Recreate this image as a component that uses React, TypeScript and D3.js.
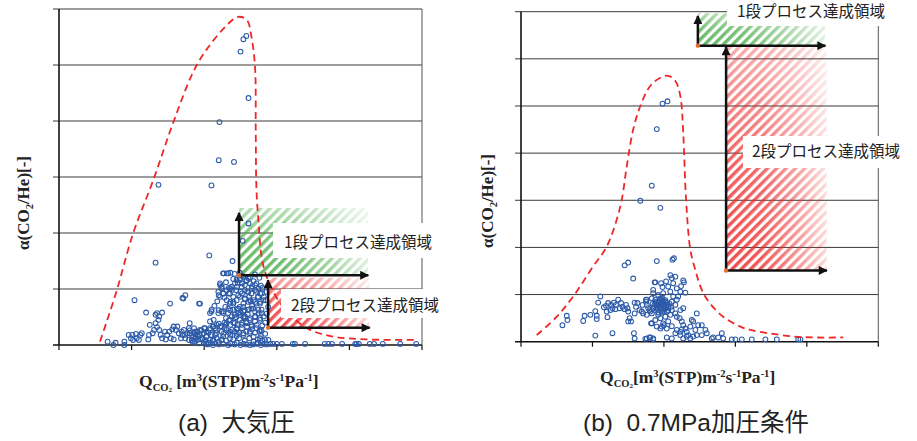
import React from 'react';
import * as d3 from 'd3';

type Pt = [number, number];

// ---------- axes ----------
const xTickValues = [0, 1, 2, 3, 4, 5];
const atmAlphaTicks = [0, 1, 2, 3, 4, 5, 6];
const presAlphaTicks = [0, 1, 2, 3, 4, 5, 6, 7];

// ---------- (a) atmospheric pressure ----------
const atmPoints: Pt[] = [
  [2.58, 5.52], [2.54, 5.46], [2.50, 5.24], [2.61, 4.41], [2.21, 3.98], [2.20, 3.30], [2.41, 3.27],
  [1.37, 2.86], [2.10, 2.85], [2.61, 2.17], [2.53, 1.86], [1.33, 1.47], [2.07, 1.60], [2.39, 1.50],
  [2.27, 1.28], [2.33, 1.28], [1.53, 0.74], [1.70, 0.84], [1.74, 0.89], [1.93, 0.74], [1.20, 0.58], [1.04, 0.80],
  [0.67, 0.06], [0.75, 0.0], [0.78, 0.04], [0.90, 0.06], [0.90, 0.0], [0.96, 0.18], [0.99, 0.12], [1.01, 0.18],
  [1.02, 0.09], [1.06, 0.20], [1.07, 0.12], [1.10, 0.09], [1.12, 0.18], [1.14, 0.21],
  [1.33, 0.54], [1.35, 0.57], [1.38, 0.51], [1.42, 0.58], [1.37, 0.45], [1.33, 0.39], [1.35, 0.32], [1.25, 0.36],
  [1.31, 0.27], [1.38, 0.27], [1.24, 0.18], [1.23, 0.10], [1.29, 0.21], [1.40, 0.18], [1.42, 0.12], [1.46, 0.24],
  [1.49, 0.18], [1.52, 0.24], [1.54, 0.12], [1.56, 0.28], [1.58, 0.33], [1.61, 0.27], [1.63, 0.33], [1.65, 0.21],
  [1.68, 0.12], [1.70, 0.18], [1.72, 0.27], [1.74, 0.12], [1.77, 0.21], [1.79, 0.30], [1.80, 0.39], [1.83, 0.18],
  [1.86, 0.21], [1.88, 0.12], [1.91, 0.24], [1.58, 0.10], [1.47, 0.10], [1.79, 0.09], [1.84, 0.06],
  [2.26, 1.28], [2.31, 1.28], [2.36, 1.29], [2.42, 1.27], [2.49, 1.29], [2.54, 1.22], [2.61, 1.19], [2.63, 1.21],
  [2.49, 1.16], [2.52, 1.10], [2.56, 1.07], [2.45, 1.04], [2.36, 1.01], [2.38, 0.98], [2.22, 1.07], [2.24, 1.01],
  [2.26, 0.92], [2.20, 0.89], [2.40, 0.86], [2.47, 0.89], [2.52, 0.92], [2.59, 0.95], [2.65, 0.92], [2.70, 0.98],
  [2.75, 1.01], [2.77, 0.92], [2.82, 0.86], [2.77, 0.77], [2.72, 0.74], [2.68, 0.80], [2.61, 0.77], [2.54, 0.74],
  [2.49, 0.68], [2.45, 0.65], [2.40, 0.74], [2.36, 0.77], [2.31, 0.80], [2.29, 0.68], [2.24, 0.60], [2.26, 0.57],
  [2.33, 0.57], [2.38, 0.51], [2.42, 0.54], [2.47, 0.57], [2.54, 0.60], [2.61, 0.63], [2.65, 0.65], [2.70, 0.60],
  [2.75, 0.57], [2.79, 0.63], [2.82, 0.51], [2.77, 0.45], [2.70, 0.42], [2.63, 0.45], [2.56, 0.48], [2.49, 0.45],
  [2.42, 0.39], [2.36, 0.36], [2.29, 0.36], [2.22, 0.33], [2.15, 0.30], [2.08, 0.30], [2.03, 0.24], [1.99, 0.21],
  [1.94, 0.18], [1.90, 0.18], [1.85, 0.15], [1.83, 0.09], [1.87, 0.06], [1.92, 0.10], [1.97, 0.12], [2.03, 0.15],
  [2.10, 0.18], [2.17, 0.21], [2.24, 0.24], [2.31, 0.27], [2.38, 0.27], [2.45, 0.28], [2.52, 0.30], [2.59, 0.33],
  [2.65, 0.36], [2.72, 0.30], [2.79, 0.26], [2.63, 0.21], [2.54, 0.18], [2.45, 0.20], [2.36, 0.18], [2.26, 0.15],
  [2.17, 0.12], [2.08, 0.09], [2.01, 0.06], [1.93, 0.03], [2.10, 0.60], [2.13, 0.45], [2.08, 0.42],
  [2.03, 0.02], [2.15, 0.03], [2.26, 0.02], [2.36, 0.02], [2.45, 0.04], [2.54, 0.02], [2.63, 0.0], [2.72, 0.02],
  [2.82, 0.02], [2.91, 0.02],
  [2.30, 1.12], [2.40, 1.18], [2.58, 1.14], [2.66, 1.05], [2.72, 1.10], [2.80, 1.02], [2.86, 0.95], [2.85, 0.80],
  [2.88, 0.68], [2.86, 0.56], [2.84, 0.40], [2.80, 0.35], [2.76, 0.25], [2.70, 0.50], [2.66, 0.70], [2.62, 0.86],
  [2.56, 0.82], [2.50, 0.95], [2.44, 0.98], [2.34, 0.92], [2.28, 0.85], [2.18, 0.78], [2.14, 0.70], [2.20, 0.62],
  [2.30, 0.48], [2.34, 0.44], [2.40, 0.40], [2.46, 0.36], [2.52, 0.40], [2.58, 0.42], [2.60, 0.55], [2.56, 0.62],
  [2.50, 0.58], [2.44, 0.50], [2.36, 0.62], [2.28, 0.40], [2.20, 0.38], [2.16, 0.26], [2.12, 0.33], [2.06, 0.22],
  [2.00, 0.30], [1.96, 0.26], [1.90, 0.24], [1.86, 0.30], [1.80, 0.26], [1.98, 0.10], [2.06, 0.04], [2.12, 0.08],
  [2.20, 0.06], [2.24, 0.10], [2.30, 0.08], [2.40, 0.10], [2.48, 0.12], [2.56, 0.08], [2.62, 0.12], [2.68, 0.06],
  [2.74, 0.10], [2.78, 0.16], [2.42, 0.24], [2.48, 0.22], [2.34, 0.22], [2.28, 0.30], [2.66, 0.28], [2.70, 0.22],
  [2.58, 0.24], [2.54, 0.50], [2.64, 0.78], [2.74, 0.86], [2.78, 1.06], [2.68, 1.14], [2.46, 1.12], [2.34, 1.02],
  [2.52, 1.24], [2.70, 1.26], [2.76, 1.20], [2.68, 0.15], [2.74, 0.04], [2.80, 0.08], [2.84, 0.20],
  [2.218, 1.10], [2.241, 1.04], [2.195, 0.95], [2.264, 0.92], [2.218, 0.86], [2.309, 0.98], [2.355, 0.92],
  [2.378, 1.04], [2.424, 1.10], [2.447, 1.16], [2.493, 1.19], [2.539, 1.22], [2.585, 1.16], [2.631, 1.10],
  [2.516, 1.04], [2.562, 0.98], [2.608, 0.95], [2.654, 1.01], [2.700, 1.07], [2.723, 0.95], [2.745, 0.86],
  [2.792, 0.92], [2.815, 0.80], [2.769, 0.74], [2.700, 0.77], [2.631, 0.80], [2.562, 0.83], [2.493, 0.86],
  [2.447, 0.80], [2.401, 0.77], [2.355, 0.74], [2.332, 0.65], [2.401, 0.63], [2.470, 0.65], [2.539, 0.68],
  [2.608, 0.63], [2.677, 0.65], [2.745, 0.63], [2.792, 0.57], [2.769, 0.48], [2.700, 0.51], [2.631, 0.48],
  [2.562, 0.51], [2.493, 0.54], [2.424, 0.48], [2.355, 0.45], [2.309, 0.39], [2.241, 0.33], [2.172, 0.36],
  [2.126, 0.33], [2.080, 0.27], [2.011, 0.30], [1.942, 0.27], [1.873, 0.24], [1.804, 0.21], [1.736, 0.18],
  [1.690, 0.24], [1.919, 0.15], [2.034, 0.16], [2.149, 0.18], [2.264, 0.20], [2.355, 0.24], [2.447, 0.30],
  [2.516, 0.36], [2.585, 0.39], [2.654, 0.33], [2.723, 0.36], [2.769, 0.27], [2.631, 0.24], [2.539, 0.21],
  [2.447, 0.16], [2.355, 0.12], [2.241, 0.09], [2.126, 0.09], [2.011, 0.09], [1.896, 0.09], [2.769, 0.12],
  [2.838, 0.09], [2.884, 0.09], [1.942, 0.74], [1.713, 0.83], [2.103, 0.63], [2.080, 0.57], [2.264, 0.60],
  [2.195, 0.57],
  [2.05, 0.01], [2.12, 0.0], [2.20, 0.01], [2.33, 0.0], [2.42, 0.01], [2.50, 0.0], [2.58, 0.01], [2.67, 0.01],
  [2.78, 0.0], [2.86, 0.01],
  [2.95, 0.02], [3.00, 0.02], [3.07, 0.02], [3.22, 0.02], [3.25, 0.02], [3.39, 0.02], [3.66, 0.02], [3.71, 0.02],
  [3.76, 0.02], [3.90, 0.02], [4.08, 0.02], [4.10, 0.02], [4.13, 0.02], [4.28, 0.02], [4.34, 0.02], [4.46, 0.02],
  [4.70, 0.02], [4.92, 0.02],
];

const atmEnvelope: Pt[] = [
  [0.565, 0.06], [0.79, 0.95], [1.02, 1.99], [1.30, 2.95], [1.57, 3.96], [1.85, 4.88], [2.03, 5.27],
  [2.31, 5.71], [2.47, 5.86], [2.59, 5.80], [2.65, 5.51], [2.70, 4.97], [2.71, 3.78], [2.72, 2.77],
  [2.75, 2.17], [2.79, 1.58], [2.86, 1.22], [3.02, 0.80], [3.23, 0.48], [3.46, 0.27], [3.78, 0.15],
  [4.24, 0.10], [4.90, 0.09],
];

// ---------- (b) 0.7 MPa ----------
const presPoints: Pt[] = [
  [1.98, 5.05], [2.05, 5.10], [1.90, 4.51], [1.83, 3.31], [1.67, 2.99], [1.95, 2.84], [1.45, 1.62], [1.50, 1.68],
  [1.90, 1.71], [2.12, 1.74], [2.14, 1.77], [1.57, 1.34], [2.09, 1.41], [2.16, 1.38], [2.11, 1.35], [1.87, 1.26],
  [2.27, 1.30], [2.28, 1.26],
  [1.11, 0.96], [1.08, 0.83], [1.04, 0.65], [1.06, 0.55], [1.06, 0.48], [1.21, 0.52], [0.97, 0.57], [0.89, 0.55],
  [0.87, 0.44], [0.64, 0.55], [0.65, 0.46], [0.58, 0.35], [1.04, 0.13], [1.28, 0.18], [1.16, 0.73], [1.19, 0.76],
  [1.22, 0.82], [1.26, 0.78], [1.30, 0.83], [1.28, 0.71], [1.33, 0.78], [1.36, 0.89], [1.38, 0.71], [1.40, 0.82],
  [1.42, 0.74], [1.45, 0.69], [1.47, 0.78], [1.49, 0.71], [1.50, 0.64], [1.52, 0.50], [1.54, 0.43], [1.50, 0.43],
  [1.59, 0.83], [1.61, 0.74], [1.63, 0.82], [1.66, 0.67], [1.70, 0.78], [1.75, 0.89], [1.76, 0.78], [1.80, 0.67],
  [1.59, 0.60], [1.20, 0.64], [1.25, 0.67], [1.32, 0.69], [1.58, 0.18], [1.59, 0.07], [1.74, 0.06], [1.80, 0.09],
  [1.82, 0.39], [1.83, 0.39], [1.95, 0.28], [2.00, 0.35], [1.85, 0.05],
  [1.88, 1.26], [1.96, 1.24], [2.03, 1.28], [2.13, 1.24], [2.24, 1.18], [1.85, 1.10], [1.98, 1.16], [2.06, 1.17],
  [2.18, 1.13], [2.23, 1.06], [2.30, 1.04], [2.09, 1.06], [1.99, 1.03], [1.92, 0.99], [1.85, 1.03], [1.76, 0.89],
  [1.75, 0.85], [1.83, 0.92], [1.88, 0.89], [1.90, 0.85], [1.92, 0.78], [1.95, 0.92], [1.97, 0.89], [1.99, 0.82],
  [2.02, 0.85], [2.04, 0.78], [2.06, 0.74], [1.95, 0.71], [1.90, 0.74], [1.88, 0.67], [1.85, 0.71], [1.78, 0.71],
  [1.81, 0.64], [1.71, 0.60], [1.69, 0.64], [1.76, 0.57], [1.83, 0.60], [1.92, 0.57], [1.97, 0.62], [2.04, 0.64],
  [2.11, 0.67], [2.16, 0.78], [2.18, 0.89], [2.20, 0.96], [2.13, 0.96], [2.11, 0.85], [2.23, 0.67], [2.27, 0.71],
  [2.16, 0.60], [2.09, 0.57], [2.02, 0.53], [1.95, 0.50], [1.88, 0.46], [1.83, 0.39], [1.99, 0.39], [2.06, 0.43],
  [1.97, 0.32], [1.90, 0.32], [2.04, 0.28], [2.11, 0.33], [2.18, 0.53], [2.22, 0.50], [2.25, 0.43], [2.27, 0.35],
  [2.30, 0.28], [2.32, 0.21], [2.34, 0.14], [2.37, 0.32], [2.39, 0.46], [2.41, 0.43], [2.44, 0.25], [2.46, 0.60],
  [2.48, 0.35], [2.53, 0.35], [2.58, 0.25], [2.60, 0.18], [2.53, 0.14], [2.46, 0.14], [2.41, 0.11], [2.37, 0.07],
  [2.27, 0.07], [2.32, 0.11], [2.23, 0.14], [2.16, 0.18], [2.11, 0.07], [2.04, 0.09], [1.85, 0.07], [1.81, 0.09],
  [1.76, 0.07], [2.67, 0.07], [2.69, 0.09], [2.76, 0.09], [2.81, 0.18], [2.83, 0.07], [2.95, 0.05], [3.00, 0.05],
  [3.09, 0.05], [3.23, 0.05], [3.42, 0.05], [3.58, 0.05], [3.88, 0.05], [3.91, 0.05], [2.23, 0.21], [2.18, 0.25],
  [2.25, 0.26],
  [1.88, 0.80], [1.92, 0.84], [1.96, 0.80], [2.00, 0.76], [2.04, 0.82], [1.98, 0.86], [1.94, 0.74], [1.90, 0.70],
  [2.02, 0.70], [2.06, 0.66], [1.86, 0.76], [1.96, 0.66], [2.00, 0.64], [2.08, 0.80], [1.92, 0.62], [1.98, 0.92],
  [2.02, 0.88], [1.88, 0.84], [2.10, 0.74], [1.84, 0.80], [1.94, 0.88], [2.00, 0.80], [1.97, 0.76], [2.03, 0.74],
  [1.91, 0.78], [1.99, 0.70],
];

const presEnvelope: Pt[] = [
  [0.22, 0.14], [0.50, 0.53], [0.73, 0.96], [1.01, 1.60], [1.20, 2.02], [1.39, 2.87], [1.48, 3.72],
  [1.57, 4.50], [1.67, 5.00], [1.81, 5.43], [1.95, 5.60], [2.06, 5.64], [2.16, 5.53], [2.23, 5.21],
  [2.27, 4.43], [2.31, 3.01], [2.37, 1.95], [2.44, 1.52], [2.53, 1.10], [2.64, 0.82], [2.83, 0.53],
  [3.07, 0.32], [3.21, 0.25], [3.46, 0.18], [3.81, 0.11], [4.10, 0.09], [4.51, 0.09],
];

// target regions: [originQ, originAlpha, arrowEndQ, arrowEndAlpha, hatchTopAlpha]
const atmStage1 = [2.48, 1.245, 4.26, 2.36, 2.45];
const atmStage2 = [2.88, 0.31, 4.28, 1.16, 1.21];
const presStage1 = [2.475, 6.28, 4.26, 6.91, 6.97];
const presStage2 = [2.87, 1.51, 4.28, 6.25, 6.25];

const stage1Label = '1段プロセス達成領域';
const stage2Label = '2段プロセス達成領域';

type Box = { x: number; y: number; w: number; h: number; tx: number; ty: number };

interface PanelCfg {
  id: string;
  left: number;
  right: number;
  top: number;
  bottom: number;
  yTicks: number[];
  points: Pt[];
  envelope: Pt[];
  stage1: number[];
  stage2: number[];
  box1: Box;
  box2: Box;
  yLabel: { x: number; y: number };
  xLabel: { x: number; y: number; space: boolean };
  caption: { x: number; y: number; text: string };
}

const panels: PanelCfg[] = [
  {
    id: 'a', left: 59, right: 422, top: 9, bottom: 345, yTicks: atmAlphaTicks,
    points: atmPoints, envelope: atmEnvelope, stage1: atmStage1, stage2: atmStage2,
    box1: { x: 273, y: 223, w: 166, h: 35, tx: 284, ty: 248 },
    box2: { x: 281, y: 289, w: 166, h: 29, tx: 291, ty: 311 },
    yLabel: { x: 28.5, y: 203 },
    xLabel: { x: 139, y: 387, space: true },
    caption: { x: 178, y: 431, text: '(a)  大気圧' },
  },
  {
    id: 'b', left: 521, right: 878.3, top: 11.7, bottom: 341.7, yTicks: presAlphaTicks,
    points: presPoints, envelope: presEnvelope, stage1: presStage1, stage2: presStage2,
    box1: { x: 727, y: 0, w: 170, h: 26, tx: 737, ty: 17 },
    box2: { x: 743, y: 136, w: 170, h: 32, tx: 752, ty: 157 },
    yLabel: { x: 492.5, y: 201 },
    xLabel: { x: 600, y: 383, space: false },
    caption: { x: 583, y: 431, text: '(b)  0.7MPa加圧条件' },
  },
];

const GREEN = '#44a944';
const RED = '#ec2a2a';
const BLUE = '#2c5aa8';
const SERIF = '"Liberation Serif", "Times New Roman", serif';
const JP = '"Noto Sans CJK JP", "Noto Sans", sans-serif';
const SANS = '"Liberation Sans", Arial, "Noto Sans CJK JP", sans-serif';

function Hatch({ pid, name, x0, y0, x1, y1, color }: { pid: string; name: string; x0: number; y0: number; x1: number; y1: number; color: string }) {
  const pat = `${pid}-${name}-pat`;
  const gx = `${pid}-${name}-gx`;
  const gy = `${pid}-${name}-gy`;
  const mx = `${pid}-${name}-mx`;
  const my = `${pid}-${name}-my`;
  const w = x1 - x0;
  const h = y1 - y0;
  return (
    <g>
      <defs>
        <pattern id={pat} width={6.6} height={6.6} patternUnits="userSpaceOnUse" patternTransform="rotate(45)">
          <rect width={3.4} height={6.6} fill={color} />
        </pattern>
        <linearGradient id={gx} x1="0" x2="1" y1="0" y2="0">
          <stop offset="0" stopColor="#fff" />
          <stop offset="0.35" stopColor="#eee" />
          <stop offset="0.7" stopColor="#999" />
          <stop offset="1" stopColor="#333" />
        </linearGradient>
        <linearGradient id={gy} x1="0" x2="0" y1="1" y2="0">
          <stop offset="0" stopColor="#fff" />
          <stop offset="0.5" stopColor="#ddd" />
          <stop offset="1" stopColor="#777" />
        </linearGradient>
        <mask id={mx} maskUnits="userSpaceOnUse" x={x0} y={y0} width={w} height={h}>
          <rect x={x0} y={y0} width={w} height={h} fill={`url(#${gx})`} />
        </mask>
        <mask id={my} maskUnits="userSpaceOnUse" x={x0} y={y0} width={w} height={h}>
          <rect x={x0} y={y0} width={w} height={h} fill={`url(#${gy})`} />
        </mask>
      </defs>
      <g mask={`url(#${my})`}>
        <rect x={x0} y={y0} width={w} height={h} fill={`url(#${pat})`} mask={`url(#${mx})`} filter={`url(#${pid}-soft)`} opacity={0.85} />
      </g>
    </g>
  );
}

function Arrows({ pid, x, y, s }: { pid: string; x: d3.ScaleLinear<number, number>; y: d3.ScaleLinear<number, number>; s: number[] }) {
  const ox = x(s[0]);
  const oy = y(s[1]);
  return (
    <g>
      <line x1={ox} y1={oy} x2={x(s[2])} y2={oy} stroke="#111" strokeWidth={2.5} markerEnd={`url(#${pid}-arrow)`} />
      <line x1={ox} y1={oy} x2={ox} y2={y(s[3])} stroke="#111" strokeWidth={2.5} markerEnd={`url(#${pid}-arrow)`} />
      <circle cx={ox} cy={oy} r={2.2} fill="#e8692a" />
    </g>
  );
}

function Panel({ cfg }: { cfg: PanelCfg }) {
  const yMax = cfg.yTicks[cfg.yTicks.length - 1];
  const x = d3.scaleLinear().domain([0, 5]).range([cfg.left, cfg.right]);
  const y = d3.scaleLinear().domain([0, yMax]).range([cfg.bottom, cfg.top]);
  const line = d3.line<Pt>().x((d) => x(d[0])).y((d) => y(d[1])).curve(d3.curveCatmullRom.alpha(0.5));
  const pid = cfg.id;
  const s1 = cfg.stage1;
  const s2 = cfg.stage2;
  const fs = 17.5;
  const ss = 10.5;
  return (
    <g>
      <defs>
        <filter id={`${pid}-soft`} x="-5%" y="-5%" width="110%" height="110%">
          <feGaussianBlur stdDeviation={0.7} />
        </filter>
        <marker id={`${pid}-arrow`} viewBox="0 0 10 10" refX={9} refY={5} markerWidth={11} markerHeight={9} markerUnits="userSpaceOnUse" orient="auto">
          <path d="M0,0 L10,5 L0,10 z" fill="#111" />
        </marker>
      </defs>
      {/* grid */}
      {cfg.yTicks.map((t) => (
        <line key={`g${t}`} x1={cfg.left - 6} x2={cfg.right} y1={y(t)} y2={y(t)} stroke={t === 0 ? '#111' : '#3a3a3a'} strokeWidth={t === 0 ? 1.6 : 1} />
      ))}
      <line x1={cfg.right} x2={cfg.right} y1={cfg.top} y2={cfg.bottom} stroke="#555" strokeWidth={1} />
      <line x1={cfg.left} x2={cfg.left} y1={cfg.top} y2={cfg.bottom} stroke="#111" strokeWidth={1.6} />
      {xTickValues.map((t) => (
        <line key={`xt${t}`} x1={x(t)} x2={x(t)} y1={cfg.bottom} y2={cfg.bottom + 5} stroke="#111" strokeWidth={1.2} />
      ))}
      {/* target regions */}
      <Hatch pid={pid} name="g" x0={x(s1[0])} y0={y(s1[4])} x1={x(s1[2])} y1={y(s1[1])} color={GREEN} />
      <Hatch pid={pid} name="r" x0={x(s2[0])} y0={y(s2[4])} x1={x(s2[2])} y1={y(s2[1])} color={RED} />
      {/* data */}
      {cfg.points.map((d, i) => (
        <circle key={i} cx={x(d[0])} cy={y(d[1])} r={2.4} fill="none" stroke={BLUE} strokeWidth={1.05} />
      ))}
      <path d={line(cfg.envelope) || ''} fill="none" stroke="#ee2626" strokeWidth={1.8} strokeDasharray="7,4.5" />
      <Arrows pid={pid} x={x} y={y} s={s1} />
      <Arrows pid={pid} x={x} y={y} s={s2} />
      {/* labels */}
      <rect x={cfg.box1.x} y={cfg.box1.y} width={cfg.box1.w} height={cfg.box1.h} fill="#fff" />
      <text x={cfg.box1.tx} y={cfg.box1.ty} fontFamily={JP} fontSize={15.5} fill="#222">{stage1Label}</text>
      <rect x={cfg.box2.x} y={cfg.box2.y} width={cfg.box2.w} height={cfg.box2.h} fill="#fff" />
      <text x={cfg.box2.tx} y={cfg.box2.ty} fontFamily={JP} fontSize={15.5} fill="#222">{stage2Label}</text>
      {/* axis titles */}
      <text transform={`translate(${cfg.yLabel.x},${cfg.yLabel.y}) rotate(-90)`} textAnchor="middle" fontFamily={SERIF} fontWeight="bold" fontSize={17} fill="#222">
        α(CO<tspan fontSize={10.5} dy={4}>2</tspan><tspan dy={-4}>/He)[-]</tspan>
      </text>
      <text x={cfg.xLabel.x} y={cfg.xLabel.y} fontFamily={SERIF} fontWeight="bold" fontSize={fs} fill="#222">
        Q<tspan fontSize={ss} dy={3.5}>CO</tspan><tspan fontSize={7} dy={1}>2</tspan>
        <tspan fontSize={fs} dy={-4.5}>{cfg.xLabel.space ? ' [m' : '[m'}</tspan>
        <tspan fontSize={ss} dy={-6.5}>3</tspan>
        <tspan fontSize={fs} dy={6.5}>(STP)m</tspan>
        <tspan fontSize={ss} dy={-6.5}>-2</tspan>
        <tspan fontSize={fs} dy={6.5}>s</tspan>
        <tspan fontSize={ss} dy={-6.5}>-1</tspan>
        <tspan fontSize={fs} dy={6.5}>Pa</tspan>
        <tspan fontSize={ss} dy={-6.5}>-1</tspan>
        <tspan fontSize={fs} dy={6.5}>]</tspan>
      </text>
      <text x={cfg.caption.x} y={cfg.caption.y} fontFamily={SANS} fontSize={24.5} fill="#222" style={{ whiteSpace: 'pre' }}>
        {cfg.caption.text}
      </text>
    </g>
  );
}

export default function App() {
  return (
    <svg width={917} height={441} viewBox="0 0 917 441" style={{ position: 'absolute', left: 0, top: 0, display: 'block', background: '#fff' }}>
      <rect width={917} height={441} fill="#fff" />
      {panels.map((p) => (
        <Panel key={p.id} cfg={p} />
      ))}
    </svg>
  );
}
